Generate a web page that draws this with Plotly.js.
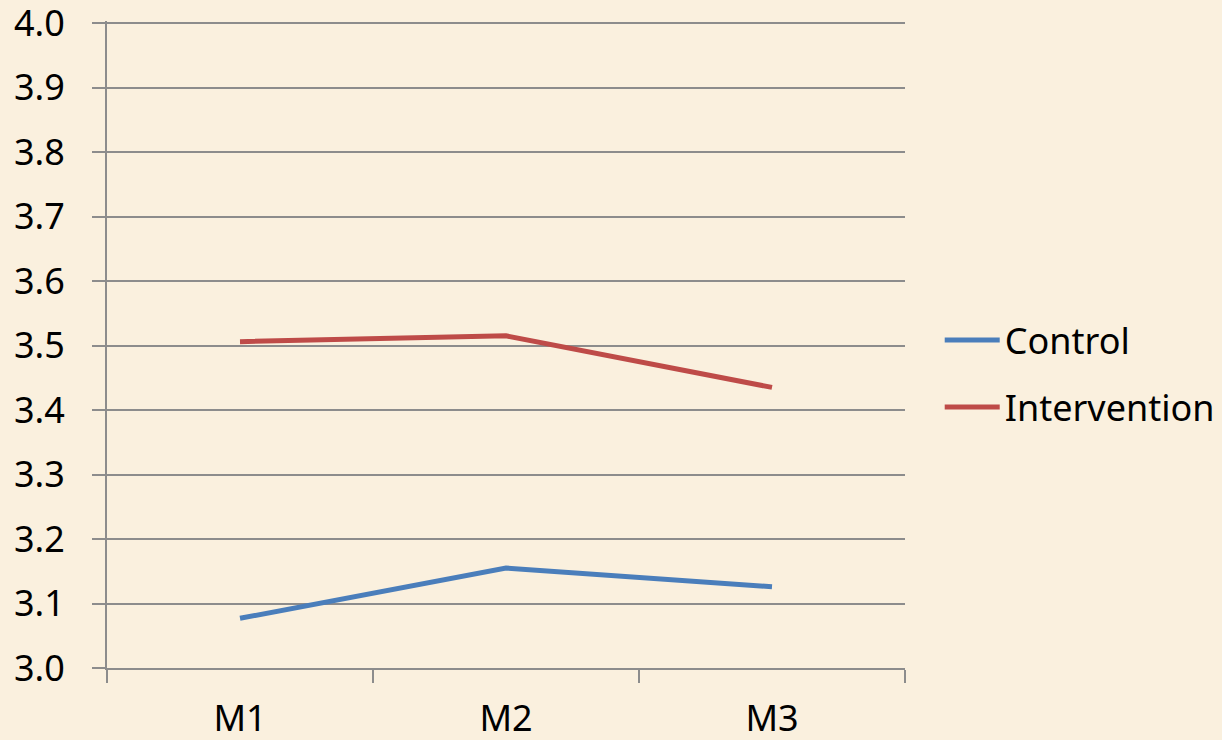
<!DOCTYPE html>
<html>
<head>
<meta charset="utf-8">
<script src="https://cdn.plot.ly/plotly-3.0.1.min.js"></script>
<style>html,body{margin:0;padding:0;background:#FAF0DE;}</style>
</head>
<body>
<div id="chart" style="width:1222px;height:740px;"></div>
<script>
const categories = ["M1", "M2", "M3"];
const controlValues = [3.077, 3.155, 3.126];
const interventionValues = [3.506, 3.515, 3.435];
const yTickValues = [3.0, 3.1, 3.2, 3.3, 3.4, 3.5, 3.6, 3.7, 3.8, 3.9, 4.0];
const yTickLabels = ["3.0", "3.1", "3.2", "3.3", "3.4", "3.5", "3.6", "3.7", "3.8", "3.9", "4.0"];

const font = {family: "Noto Sans, Open Sans, sans-serif", size: 36, color: "#000000"};
const grid = "#8C8C8C";

const traces = [
  {x: categories, y: controlValues, name: "Control", type: "scatter", mode: "lines",
   line: {color: "#4A7EBB", width: 5}, legend: "legend"},
  {x: categories, y: interventionValues, name: "Intervention", type: "scatter", mode: "lines",
   line: {color: "#BE4B48", width: 5}, legend: "legend2"}
];

const legendCommon = {
  xref: "container", yref: "container",
  x: 0.769, xanchor: "left", yanchor: "middle",
  bgcolor: "rgba(0,0,0,0)", borderwidth: 0,
  font: font, itemwidth: 55
};

const layout = {
  width: 1222, height: 740,
  paper_bgcolor: "#FAF0DE", plot_bgcolor: "#FAF0DE",
  margin: {l: 107, r: 317, t: 21, b: 72, autoexpand: false},
  font: font,
  showlegend: true,
  legend: Object.assign({}, legendCommon, {y: 0.5405}),
  legend2: Object.assign({}, legendCommon, {y: 0.450}),
  xaxis: {
    type: "category", range: [-0.5, 2.5],
    showgrid: false, zeroline: false,
    showline: true, linecolor: grid, linewidth: 2,
    ticks: "outside", tickson: "boundaries", ticklen: 13, tickcolor: grid, tickwidth: 2,
    ticklabelstandoff: 18,
    tickfont: font
  },
  yaxis: {
    range: [3.0, 4.0031],
    tickvals: yTickValues, ticktext: yTickLabels,
    showgrid: true, gridcolor: grid, gridwidth: 2,
    zeroline: false,
    showline: true, linecolor: grid, linewidth: 2,
    ticks: "outside", ticklen: 13, tickcolor: grid, tickwidth: 2,
    ticklabelstandoff: 20, ticklabeloverflow: "allow",
    tickfont: font
  }
};

Plotly.newPlot("chart", traces, layout, {displayModeBar: false, staticPlot: true}).then(function (gd) {
  // lengthen legend line samples to match the reference
  gd.querySelectorAll(".legend .legendlines path").forEach(function (p) {
    p.setAttribute("d", "M5,0h55");
  });
});
</script>
</body>
</html>
